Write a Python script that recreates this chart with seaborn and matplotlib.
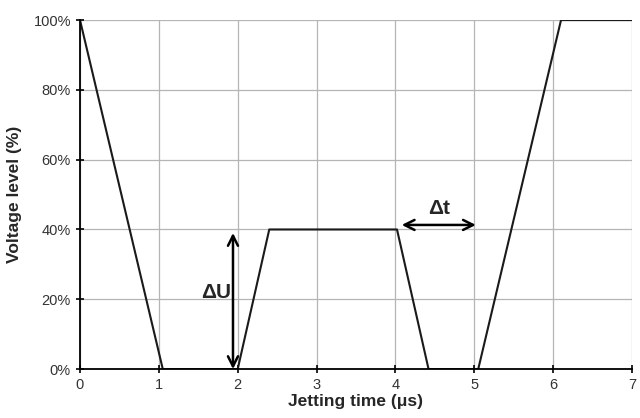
import matplotlib
matplotlib.use("Agg")
import matplotlib.pyplot as plt
import seaborn as sns
import pandas as pd
from matplotlib.ticker import PercentFormatter

time_us = [0.0, 1.05, 2.0, 2.4, 2.45, 3.95, 4.02, 4.42, 5.05, 6.1, 6.15, 7.0]
voltage_pct = [100, 0, 0, 40, 40, 40, 40, 0, 0, 100, 100, 100]
x_ticks = [0, 1, 2, 3, 4, 5, 6, 7]
y_ticks = [0, 20, 40, 60, 80, 100]

sns.set_theme(style="white")
plt.rcParams['font.family'] = ['Liberation Sans', 'DejaVu Sans']

df = pd.DataFrame({"t": time_us, "v": voltage_pct})
fig = plt.figure(figsize=(6.4, 4.18), dpi=100)
ax = fig.add_axes([0.125, 0.117, 0.8625, 0.835])
sns.lineplot(data=df, x="t", y="v", ax=ax, color="#1a1a1a", linewidth=1.5, sort=False)

ax.set_xlim(0, 7)
ax.set_ylim(0, 100)
ax.set_xticks(x_ticks)
ax.set_yticks(y_ticks)
ax.yaxis.set_major_formatter(PercentFormatter(decimals=0))
ax.grid(True, color="#b5b5b5", linewidth=0.9)
ax.set_axisbelow(True)
for s in ["top", "right"]:
    ax.spines[s].set_visible(False)
for s in ["left", "bottom"]:
    ax.spines[s].set_color("black")
    ax.spines[s].set_linewidth(1.3)
ax.tick_params(axis="both", direction="inout", length=6, width=1.2, color="black",
               labelsize=10.5, labelcolor="#333333", left=True, bottom=True)
ax.set_xlabel("Jetting time (\u03bcs)", fontsize=12.5, fontweight="bold", labelpad=1)
ax.set_ylabel("Voltage level (%)", fontsize=12.5, fontweight="bold", labelpad=8)

arrow_kw = dict(arrowstyle="<->,head_length=0.6,head_width=0.3", color="black", lw=1.8,
                shrinkA=0, shrinkB=0)
ax.annotate("", xy=(1.94, 0), xytext=(1.94, 39), arrowprops=arrow_kw)
ax.annotate("", xy=(4.08, 41.3), xytext=(5.02, 41.3), arrowprops=arrow_kw)
ax.text(1.72, 22, "\u0394U", fontsize=15, fontweight="bold", ha="center", va="center")
ax.text(4.55, 46, "\u0394t", fontsize=15, fontweight="bold", ha="center", va="center")

fig.savefig("out.png", dpi=100)
